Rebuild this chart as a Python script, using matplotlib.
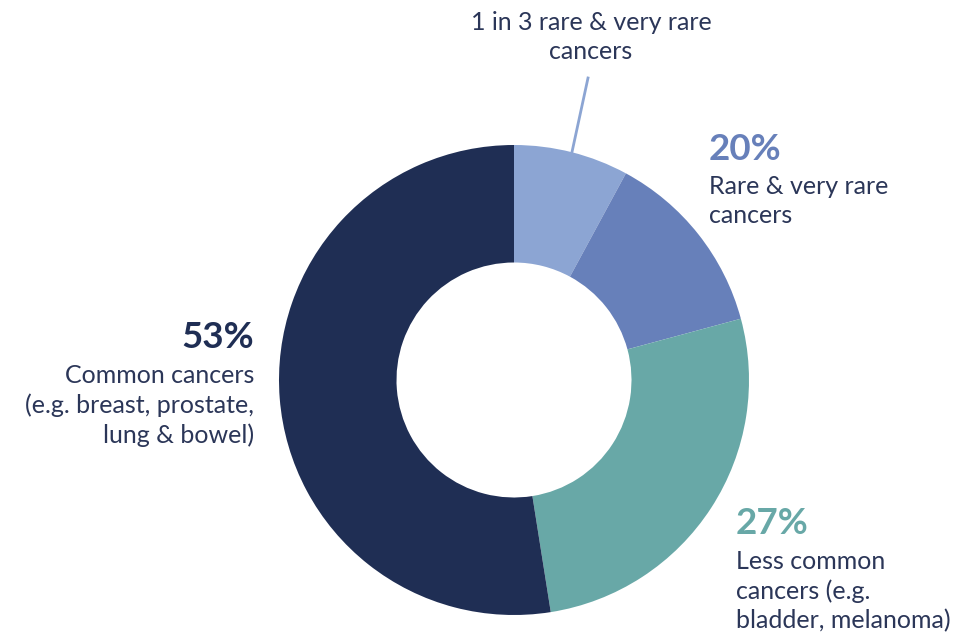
import matplotlib.pyplot as plt

segments = ["1 in 3 rare & very rare", "Rare & very rare", "Less common", "Common"]
shares = [7.9, 12.9, 26.7, 52.5]
colors = ["#8CA5D3", "#6780BA", "#68A8A7", "#1F2E54"]

pct_labels = ["20%", "27%", "53%"]
text_dark = "#2B3658"

W, H = 966, 634
plt.rcParams['font.family'] = ['Lato', 'DejaVu Sans']

fig = plt.figure(figsize=(W / 100, H / 100), dpi=100)

# donut: centre (514, 380) px, outer radius 235 px
cx, cy, r = 514, 380, 235
ax = fig.add_axes([(cx - r) / W, (H - cy - r) / H, 2 * r / W, 2 * r / H])
ax.pie(shares, colors=colors, startangle=90, counterclock=False,
       radius=1, wedgeprops=dict(width=0.5, linewidth=0))
ax.set_xlim(-1, 1)
ax.set_ylim(-1, 1)
ax.set_aspect('equal')
ax.axis('off')


def px(x, y):
    return x / W, 1 - y / H


# leader line for the "1 in 3" slice
fig.add_artist(plt.Line2D([572 / W, 588 / W], [1 - 152 / H, 1 - 78 / H],
                          color=colors[0], lw=2))

body = dict(fontsize=18, color=text_dark, linespacing=1.33)
pct = dict(fontsize=26.5, fontweight='bold')

fig.text(*px(591, 11), "1 in 3 rare & very rare\ncancers", ha='center', va='top',
         multialignment='center', **body)

fig.text(*px(709, 149), pct_labels[0], ha='left', va='center', color=colors[1], **pct)
fig.text(*px(709, 175), "Rare & very rare\ncancers", ha='left', va='top', **body)

fig.text(*px(736, 524), pct_labels[1], ha='left', va='center', color=colors[2], **pct)
fig.text(*px(736, 550), "Less common\ncancers (e.g.\nbladder, melanoma)", ha='left',
         va='top', **body)

fig.text(*px(254, 338), pct_labels[2], ha='right', va='center', color=colors[3], **pct)
fig.text(*px(254, 364), "Common cancers\n(e.g. breast, prostate,\nlung & bowel)", ha='right',
         va='top', multialignment='right', **body)

plt.savefig("out.png", dpi=100, facecolor='white')
